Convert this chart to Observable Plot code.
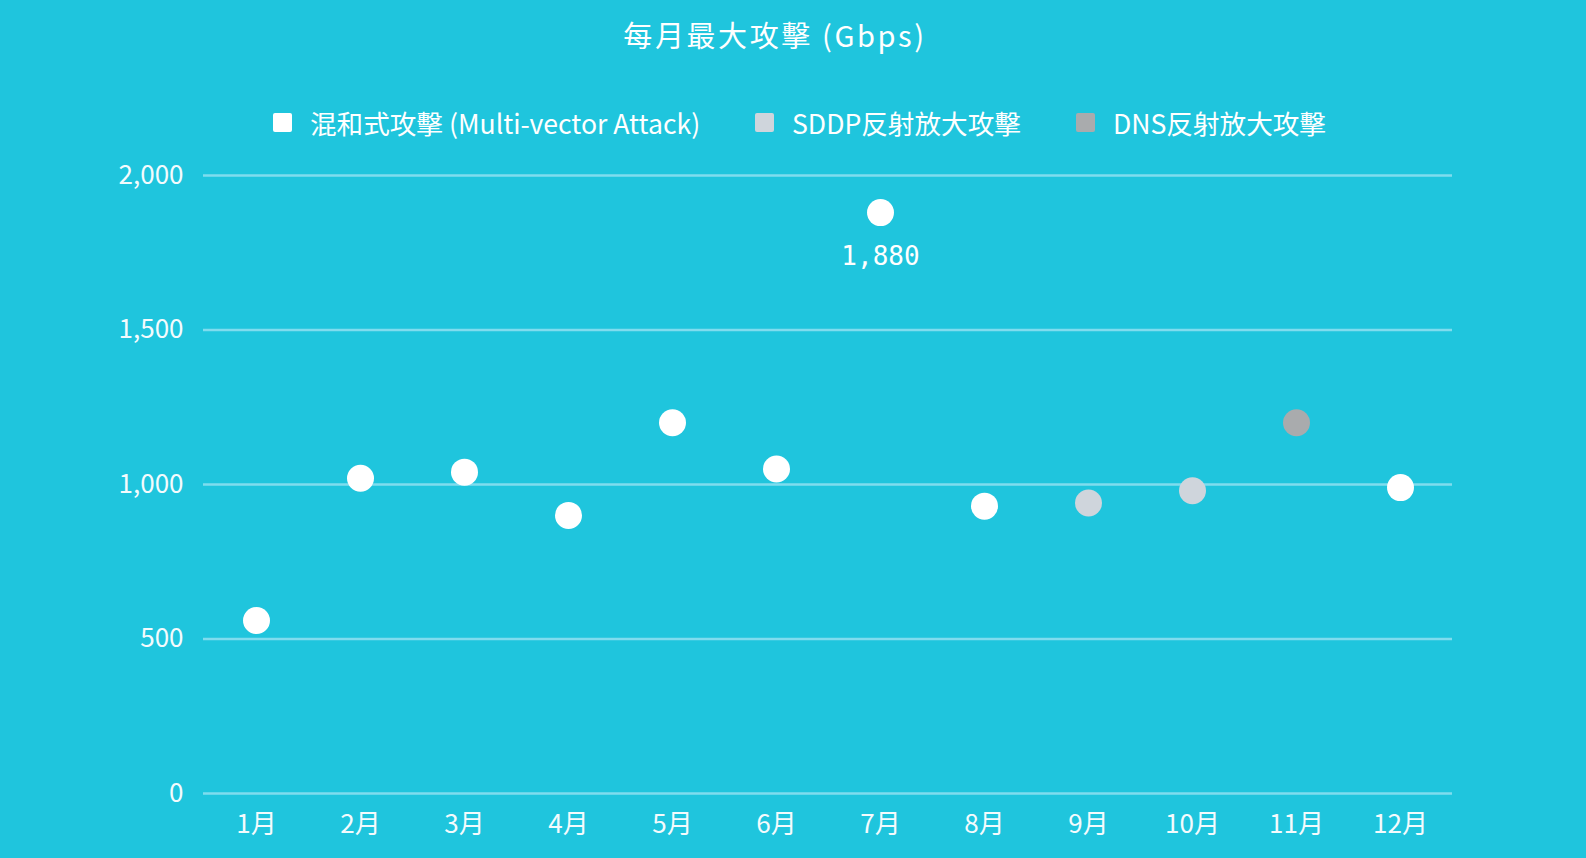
<!DOCTYPE html>
<html>
<head>
<meta charset="utf-8">
<script src="https://cdn.jsdelivr.net/npm/d3@7"></script>
<script src="https://cdn.jsdelivr.net/npm/@observablehq/plot@0.6"></script>
<style>
  html, body { margin: 0; padding: 0; width: 1586px; height: 858px; overflow: hidden; background: #1fc5dd; font-family: "Noto Sans CJK TC", "Noto Sans", sans-serif; color: #fff; }
  #title { position: absolute; left: 0; width: 1550px; top: 14px; text-align: center; font-size: 29px; letter-spacing: 2.6px; line-height: 40px; }
  #legend { position: absolute; top: 102px; left: 0; width: 1586px; height: 40px; }
  .item { position: absolute; top: 0; display: flex; align-items: center; height: 40px; font-size: 26.6px; white-space: nowrap; }
  .sw { width: 19px; height: 19px; border-radius: 2px; margin-right: 18px; }
  #chart { position: absolute; left: 0; top: 150px; }
</style>
</head>
<body>
<div id="title"></div>
<div id="legend"></div>
<div id="chart"></div>
<script>
const titleText = "每月最大攻擊 (Gbps)";
const months = ["1月","2月","3月","4月","5月","6月","7月","8月","9月","10月","11月","12月"];
const values = [560, 1020, 1040, 900, 1200, 1050, 1880, 930, 940, 980, 1200, 990];
const attackTypes = ["混和式攻擊 (Multi-vector Attack)","混和式攻擊 (Multi-vector Attack)","混和式攻擊 (Multi-vector Attack)","混和式攻擊 (Multi-vector Attack)","混和式攻擊 (Multi-vector Attack)","混和式攻擊 (Multi-vector Attack)","混和式攻擊 (Multi-vector Attack)","混和式攻擊 (Multi-vector Attack)","SDDP反射放大攻擊","SDDP反射放大攻擊","DNS反射放大攻擊","混和式攻擊 (Multi-vector Attack)"];
const seriesNames = ["混和式攻擊 (Multi-vector Attack)", "SDDP反射放大攻擊", "DNS反射放大攻擊"];
const seriesColors = ["#ffffff", "#cfd5dc", "#a9abad"];
const yTicks = [0, 500, 1000, 1500, 2000];
const labelledMonths = ["7月"];

const data = months.map((m, i) => ({month: m, value: values[i], type: attackTypes[i]}));

document.getElementById("title").textContent = titleText;

const legendX = [273, 755, 1076];
const legend = document.getElementById("legend");
seriesNames.forEach((name, i) => {
  const it = document.createElement("div");
  it.className = "item";
  it.style.left = legendX[i] + "px";
  const sw = document.createElement("div");
  sw.className = "sw";
  sw.style.background = seriesColors[i];
  const tx = document.createElement("span");
  tx.textContent = name;
  it.appendChild(sw); it.appendChild(tx);
  legend.appendChild(it);
});

const fmt = d3.format(",");
const chart = Plot.plot({
  width: 1586,
  height: 708,
  marginTop: 25,
  marginBottom: 65,
  marginLeft: 203,
  marginRight: 134,
  style: {background: "transparent", color: "#ffffff", fontFamily: "'Noto Sans CJK TC', 'Noto Sans', sans-serif"},
  x: {type: "band", domain: months, padding: 0},
  y: {domain: [0, 2000]},
  color: {domain: seriesNames, range: seriesColors},
  marks: [
    Plot.ruleY(yTicks, {stroke: "#7fdcee", strokeWidth: 2.5}),
    Plot.axisY({ticks: yTicks, tickSize: 0, tickPadding: 20, fontSize: 26, tickFormat: fmt, label: null, fill: "#f4fbfd"}),
    Plot.axisX({tickSize: 0, tickPadding: 21, fontSize: 26, label: null, fill: "#f4fbfd"}),
    Plot.dot(data, {x: "month", y: "value", fill: "type", r: 13.5}),
    Plot.text(data.filter(d => labelledMonths.includes(d.month)), {x: "month", y: "value", text: d => fmt(d.value), dy: 44, fontSize: 26, fill: "#ffffff", fontFamily: "DejaVu Sans Mono", letterSpacing: "1.8px"})
  ]
});
document.getElementById("chart").appendChild(chart);
</script>
</body>
</html>
